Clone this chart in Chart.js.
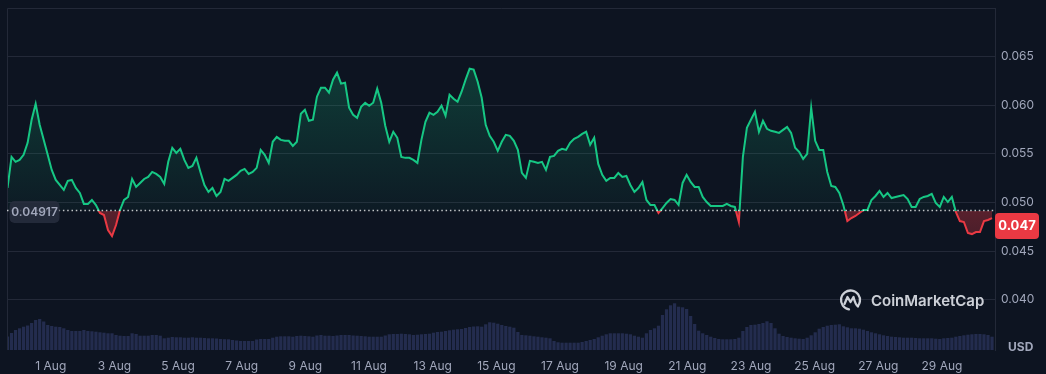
<!DOCTYPE html>
<html>
<head>
<meta charset="utf-8">
<script src="https://cdn.jsdelivr.net/npm/chart.js@4.4.1/dist/chart.umd.min.js"></script>
<style>
  html, body { margin: 0; padding: 0; background: #0d1421; }
  #wrap { width: 1046px; height: 374px; position: relative; }
</style>
</head>
<body>
<div id="wrap"><canvas id="price-chart"></canvas></div>
<script>
// reference price (open of the period) and last price label
const baseline = 0.04917;
const lastPriceLabel = "0.047";

// samples every ~3h, hours counted from 1 Aug 00:00
const startHour = -32.6;
const stepHours = 3.03;

const prices = [
    0.05149, 0.05469, 0.05418, 0.05438, 0.05490, 0.05613, 0.05851, 0.06015, 0.05799, 0.05644,
    0.05490, 0.05335, 0.05232, 0.05180, 0.05129, 0.05222, 0.05232, 0.05149, 0.05098, 0.04985,
    0.04985, 0.05026, 0.04974, 0.04892, 0.04871, 0.04716, 0.04655, 0.04768, 0.04923, 0.05026,
    0.05057, 0.05242, 0.05160, 0.05201, 0.05242, 0.05263, 0.05314, 0.05294, 0.05263, 0.05191,
    0.05418, 0.05562, 0.05510, 0.05552, 0.05438, 0.05356, 0.05376, 0.05459, 0.05314, 0.05180,
    0.05108, 0.05149, 0.05067, 0.05108, 0.05242, 0.05222, 0.05253, 0.05284, 0.05325, 0.05345,
    0.05294, 0.05314, 0.05356, 0.05541, 0.05490, 0.05407, 0.05624, 0.05675, 0.05644, 0.05634,
    0.05634, 0.05582, 0.05624, 0.05912, 0.05954, 0.05840, 0.05851, 0.06088, 0.06180, 0.06180,
    0.06129, 0.06263, 0.06335, 0.06222, 0.06232, 0.05974, 0.05902, 0.05871, 0.05985, 0.06026,
    0.05995, 0.06026, 0.06170, 0.06026, 0.05789, 0.05624, 0.05727, 0.05665, 0.05469, 0.05459,
    0.05459, 0.05438, 0.05407, 0.05644, 0.05830, 0.05923, 0.05902, 0.05933, 0.05995, 0.05892,
    0.06108, 0.06067, 0.06036, 0.06139, 0.06263, 0.06376, 0.06366, 0.06242, 0.06077, 0.05799,
    0.05686, 0.05624, 0.05531, 0.05624, 0.05696, 0.05686, 0.05634, 0.05541, 0.05304, 0.05253,
    0.05428, 0.05418, 0.05407, 0.05418, 0.05335, 0.05469, 0.05479, 0.05531, 0.05552, 0.05541,
    0.05613, 0.05655, 0.05675, 0.05706, 0.05727, 0.05593, 0.05665, 0.05397, 0.05284, 0.05222,
    0.05253, 0.05253, 0.05304, 0.05263, 0.05273, 0.05180, 0.05108, 0.05149, 0.05211, 0.05026,
    0.04974, 0.04974, 0.04892, 0.04943, 0.04995, 0.05036, 0.05026, 0.04974, 0.05201, 0.05284,
    0.05211, 0.05160, 0.05160, 0.05057, 0.05005, 0.04964, 0.04964, 0.04964, 0.04964, 0.04985,
    0.04964, 0.04954, 0.04799, 0.05469, 0.05768, 0.05851, 0.05933, 0.05727, 0.05840, 0.05758,
    0.05737, 0.05727, 0.05716, 0.05747, 0.05778, 0.05716, 0.05562, 0.05521, 0.05448, 0.05500,
    0.05974, 0.05634, 0.05541, 0.05541, 0.05314, 0.05170, 0.05160, 0.05098, 0.04974, 0.04809,
    0.04840, 0.04861, 0.04892, 0.04923, 0.04923, 0.05026, 0.05067, 0.05119, 0.05057, 0.05098,
    0.05046, 0.05057, 0.05067, 0.05077, 0.05036, 0.04954, 0.04954, 0.05036, 0.05057, 0.05067,
    0.05088, 0.04995, 0.04954, 0.05057, 0.05005, 0.05057, 0.04902, 0.04809, 0.04799, 0.04686,
    0.04675, 0.04696, 0.04696, 0.04809, 0.04820, 0.04840
];

// traded volume, same sample times (relative units)
const volumes = [
    13.5, 17, 20, 21.7, 23.3, 24.5, 27, 30, 31, 28.5,
    25, 24, 23.3, 23, 21.7, 20, 19, 19, 19, 20,
    19, 18.7, 18.3, 17.7, 17.3, 16.7, 16.7, 15, 14.3, 14,
    14, 16.7, 16, 14.3, 14.3, 14.3, 15, 15, 14.3, 11.7,
    12.3, 13, 12.7, 12.7, 12.3, 12.3, 12.7, 12.3, 12.3, 12,
    11.7, 11.7, 11.5, 11, 10.8, 10.7, 10, 9.5, 9, 9,
    9, 9, 10.5, 11, 11, 11, 12.3, 13.3, 13.7, 13.7,
    13.7, 13.3, 14, 14.3, 14, 13.7, 13.3, 14.5, 15, 14.3,
    14.3, 14, 14.5, 15, 15, 15, 14.5, 14.3, 14, 13.7,
    13.3, 13.3, 13.3, 13.3, 14.5, 15.7, 16, 16, 16.3, 16,
    15.7, 15, 15.3, 15.7, 16, 16.3, 17.3, 18, 18.3, 19,
    19.7, 20.3, 20.7, 21, 22, 23, 23.5, 23.7, 23.3, 25.7,
    27.7, 27.3, 26.3, 25, 24, 23.3, 22.3, 18, 15, 14.7,
    14.3, 13.7, 13.3, 12.7, 12.3, 11.7, 9, 7.7, 7.3, 7.3,
    7.3, 7.3, 7.3, 8, 9, 10, 11, 12.7, 14.3, 15.7,
    16.7, 16.7, 16.7, 16.7, 16.3, 15.7, 14.3, 13.3, 12.3, 16.7,
    20, 21.7, 24.3, 35, 40.7, 44.7, 46.7, 43.3, 42.7, 41,
    34, 26, 19.3, 16.7, 15, 13.3, 12, 11, 10.7, 10.7,
    10.7, 11, 12.3, 19, 23, 25, 25.3, 26, 27, 28.7,
    27, 21.7, 16.3, 14, 13, 12.3, 11.7, 11.3, 11, 12.3,
    14.7, 17.7, 21.3, 23, 24.3, 25, 25.3, 25.7, 23.7, 22.7,
    21.7, 21.7, 21.3, 20.3, 19, 17.7, 16.7, 15.7, 14.7, 14,
    13.3, 13, 12.7, 12.3, 12.3, 12.3, 12, 11.7, 11.7, 11.7,
    11.7, 11.3, 11, 11.7, 12, 12.3, 13.3, 14, 14.7, 15.3,
    15.7, 16, 16, 15.7, 15, 13.3
];
const volumeAxisMax = 342;

const tickDays = [1, 3, 5, 7, 9, 11, 13, 15, 17, 19, 21, 23, 25, 27, 29];
const tickLabels = tickDays.map(d => d + " Aug");
const priceTicks = [0.040, 0.045, 0.050, 0.055, 0.060, 0.065];

const green = "#16c784";
const red = "#ea3943";
const gridColor = "#232938";
const textColor = "#a1a7bb";

const priceData = prices.map((p, i) => ({ x: startHour + i * stepHours, y: p }));
const volumeData = volumes.map((v, i) => ({ x: startHour + i * stepHours, y: v }));

// vertical gradient that switches colour exactly at the baseline price
function splitGradient(chart, topColor, baseAbove, baseBelow, bottomColor) {
    const area = chart.chartArea;
    if (!area) return baseAbove;
    const yb = chart.scales.y.getPixelForValue(baseline);
    const f = Math.min(Math.max((yb - area.top) / (area.bottom - area.top), 0), 1);
    const g = chart.ctx.createLinearGradient(0, area.top, 0, area.bottom);
    g.addColorStop(0, topColor);
    g.addColorStop(f, baseAbove);
    g.addColorStop(f, baseBelow);
    g.addColorStop(1, bottomColor);
    return g;
}

const cmcDecor = {
    id: "cmcDecor",
    beforeDraw(chart) {
        const ctx = chart.ctx;
        ctx.save();
        ctx.fillStyle = "#0d1421";
        ctx.fillRect(0, 0, chart.width, chart.height);
        ctx.restore();
    },
    afterDatasetsDraw(chart) {
        const { ctx, chartArea } = chart;
        const yb = chart.scales.y.getPixelForValue(baseline);
        ctx.save();
        // frame: top and left lines
        ctx.strokeStyle = gridColor;
        ctx.lineWidth = 1;
        ctx.beginPath();
        ctx.moveTo(chartArea.left + 0.5, chartArea.bottom);
        ctx.lineTo(chartArea.left + 0.5, chartArea.top + 0.5);
        ctx.lineTo(chartArea.right, chartArea.top + 0.5);
        ctx.stroke();
        // dotted baseline
        ctx.strokeStyle = "rgba(255,255,255,0.75)";
        ctx.lineWidth = 1.5;
        ctx.setLineDash([1.5, 2.8]);
        ctx.beginPath();
        ctx.moveTo(chartArea.left, yb);
        ctx.lineTo(chartArea.right, yb);
        ctx.stroke();
        ctx.restore();
    },
    afterDraw(chart) {
        const { ctx, chartArea } = chart;
        const yb = chart.scales.y.getPixelForValue(baseline);
        const yLast = chart.scales.y.getPixelForValue(prices[prices.length - 1]);
        ctx.save();
        // baseline label
        ctx.fillStyle = "rgba(40,46,62,0.85)";
        ctx.beginPath();
        ctx.roundRect(chartArea.left + 2.5, yb - 9.5, 50, 22, 5);
        ctx.fill();
        ctx.fillStyle = textColor;
        ctx.font = "600 12px Inter";
        ctx.textAlign = "center";
        ctx.textBaseline = "middle";
        ctx.fillText(baseline.toString(), chartArea.left + 27.5, yb + 1.5);

        // last price badge
        ctx.fillStyle = red;
        ctx.beginPath();
        ctx.roundRect(chartArea.right, yLast - 5, 44, 26, 4);
        ctx.fill();
        ctx.fillStyle = "#ffffff";
        ctx.font = "700 13px Inter";
        ctx.fillText(lastPriceLabel, chartArea.right + 22, yLast + 8.5);

        // currency
        ctx.fillStyle = textColor;
        ctx.font = "700 12px Inter";
        ctx.textAlign = "left";
        ctx.fillText("USD", chartArea.right + 13, chartArea.bottom - 3);

        // watermark
        const cx = 850.5, cy = 300;
        ctx.strokeStyle = "rgba(225,228,235,0.9)";
        ctx.lineWidth = 2.3;
        ctx.lineCap = "round";
        ctx.lineJoin = "round";
        ctx.beginPath();
        ctx.arc(cx, cy, 9.5, Math.PI * 0.55, Math.PI * 2.2);
        ctx.stroke();
        ctx.beginPath();
        ctx.moveTo(cx - 6, cy + 4);
        ctx.lineTo(cx - 3, cy - 3);
        ctx.lineTo(cx, cy + 2);
        ctx.lineTo(cx + 3, cy - 3);
        ctx.quadraticCurveTo(cx + 5, cy + 5, cx + 7.5, cy + 6.5);
        ctx.stroke();
        ctx.fillStyle = "rgba(225,228,235,0.9)";
        ctx.font = "600 15px Inter";
        ctx.textBaseline = "middle";
        ctx.fillText("CoinMarketCap", 871, 301.5);
        ctx.restore();
    }
};

const ctx = document.getElementById("price-chart").getContext("2d");
const priceChart = new Chart(ctx, {
    data: {
        datasets: [{
            type: "line",
            data: priceData,
            yAxisID: "y",
            order: 0,
            borderWidth: 2,
            pointRadius: 0,
            tension: 0,
            borderColor: c => splitGradient(c.chart, green, green, red, red),
            backgroundColor: c => splitGradient(c.chart,
                "rgba(22,199,132,0.30)", "rgba(22,199,132,0.04)",
                "rgba(234,57,67,0.34)", "rgba(234,57,67,0.0)"),
            fill: { target: { value: baseline } }
        }, {
            type: "bar",
            data: volumeData,
            yAxisID: "yv",
            order: 1,
            backgroundColor: "rgba(50,60,106,0.62)",
            barPercentage: 0.8,
            categoryPercentage: 1
        }]
    },
    options: {
        responsive: true,
        maintainAspectRatio: false,
        animation: false,
        layout: { padding: { left: 7, top: 8, right: 0, bottom: 0 } },
        plugins: { legend: { display: false }, tooltip: { enabled: false } },
        scales: {
            x: {
                type: "linear",
                offset: false,
                min: -33,
                max: 712,
                grid: { display: false, drawTicks: false },
                border: { display: false },
                afterBuildTicks: s => { s.ticks = tickDays.map(d => ({ value: (d - 1) * 24 })); },
                afterFit: s => { s.height = 24; s.paddingLeft = 0; s.paddingRight = 0; },
                ticks: {
                    color: textColor,
                    font: { family: "Inter", size: 12 },
                    padding: 9,
                    maxRotation: 0,
                    autoSkip: false,
                    callback: (v, i) => tickLabels[i]
                }
            },
            y: {
                position: "right",
                min: 0.03483,
                max: 0.070,
                grid: { color: gridColor, drawTicks: false },
                border: { display: true, color: gridColor },
                afterBuildTicks: s => { s.ticks = priceTicks.map(v => ({ value: v })); },
                afterFit: s => { s.width = 51; s.paddingTop = 0; s.paddingBottom = 0; },
                ticks: {
                    color: textColor,
                    font: { family: "Inter", size: 12 },
                    padding: 6,
                    callback: v => v.toFixed(3)
                }
            },
            yv: {
                display: false,
                min: 0,
                max: volumeAxisMax
            }
        }
    },
    plugins: [cmcDecor]
});
</script>
</body>
</html>
